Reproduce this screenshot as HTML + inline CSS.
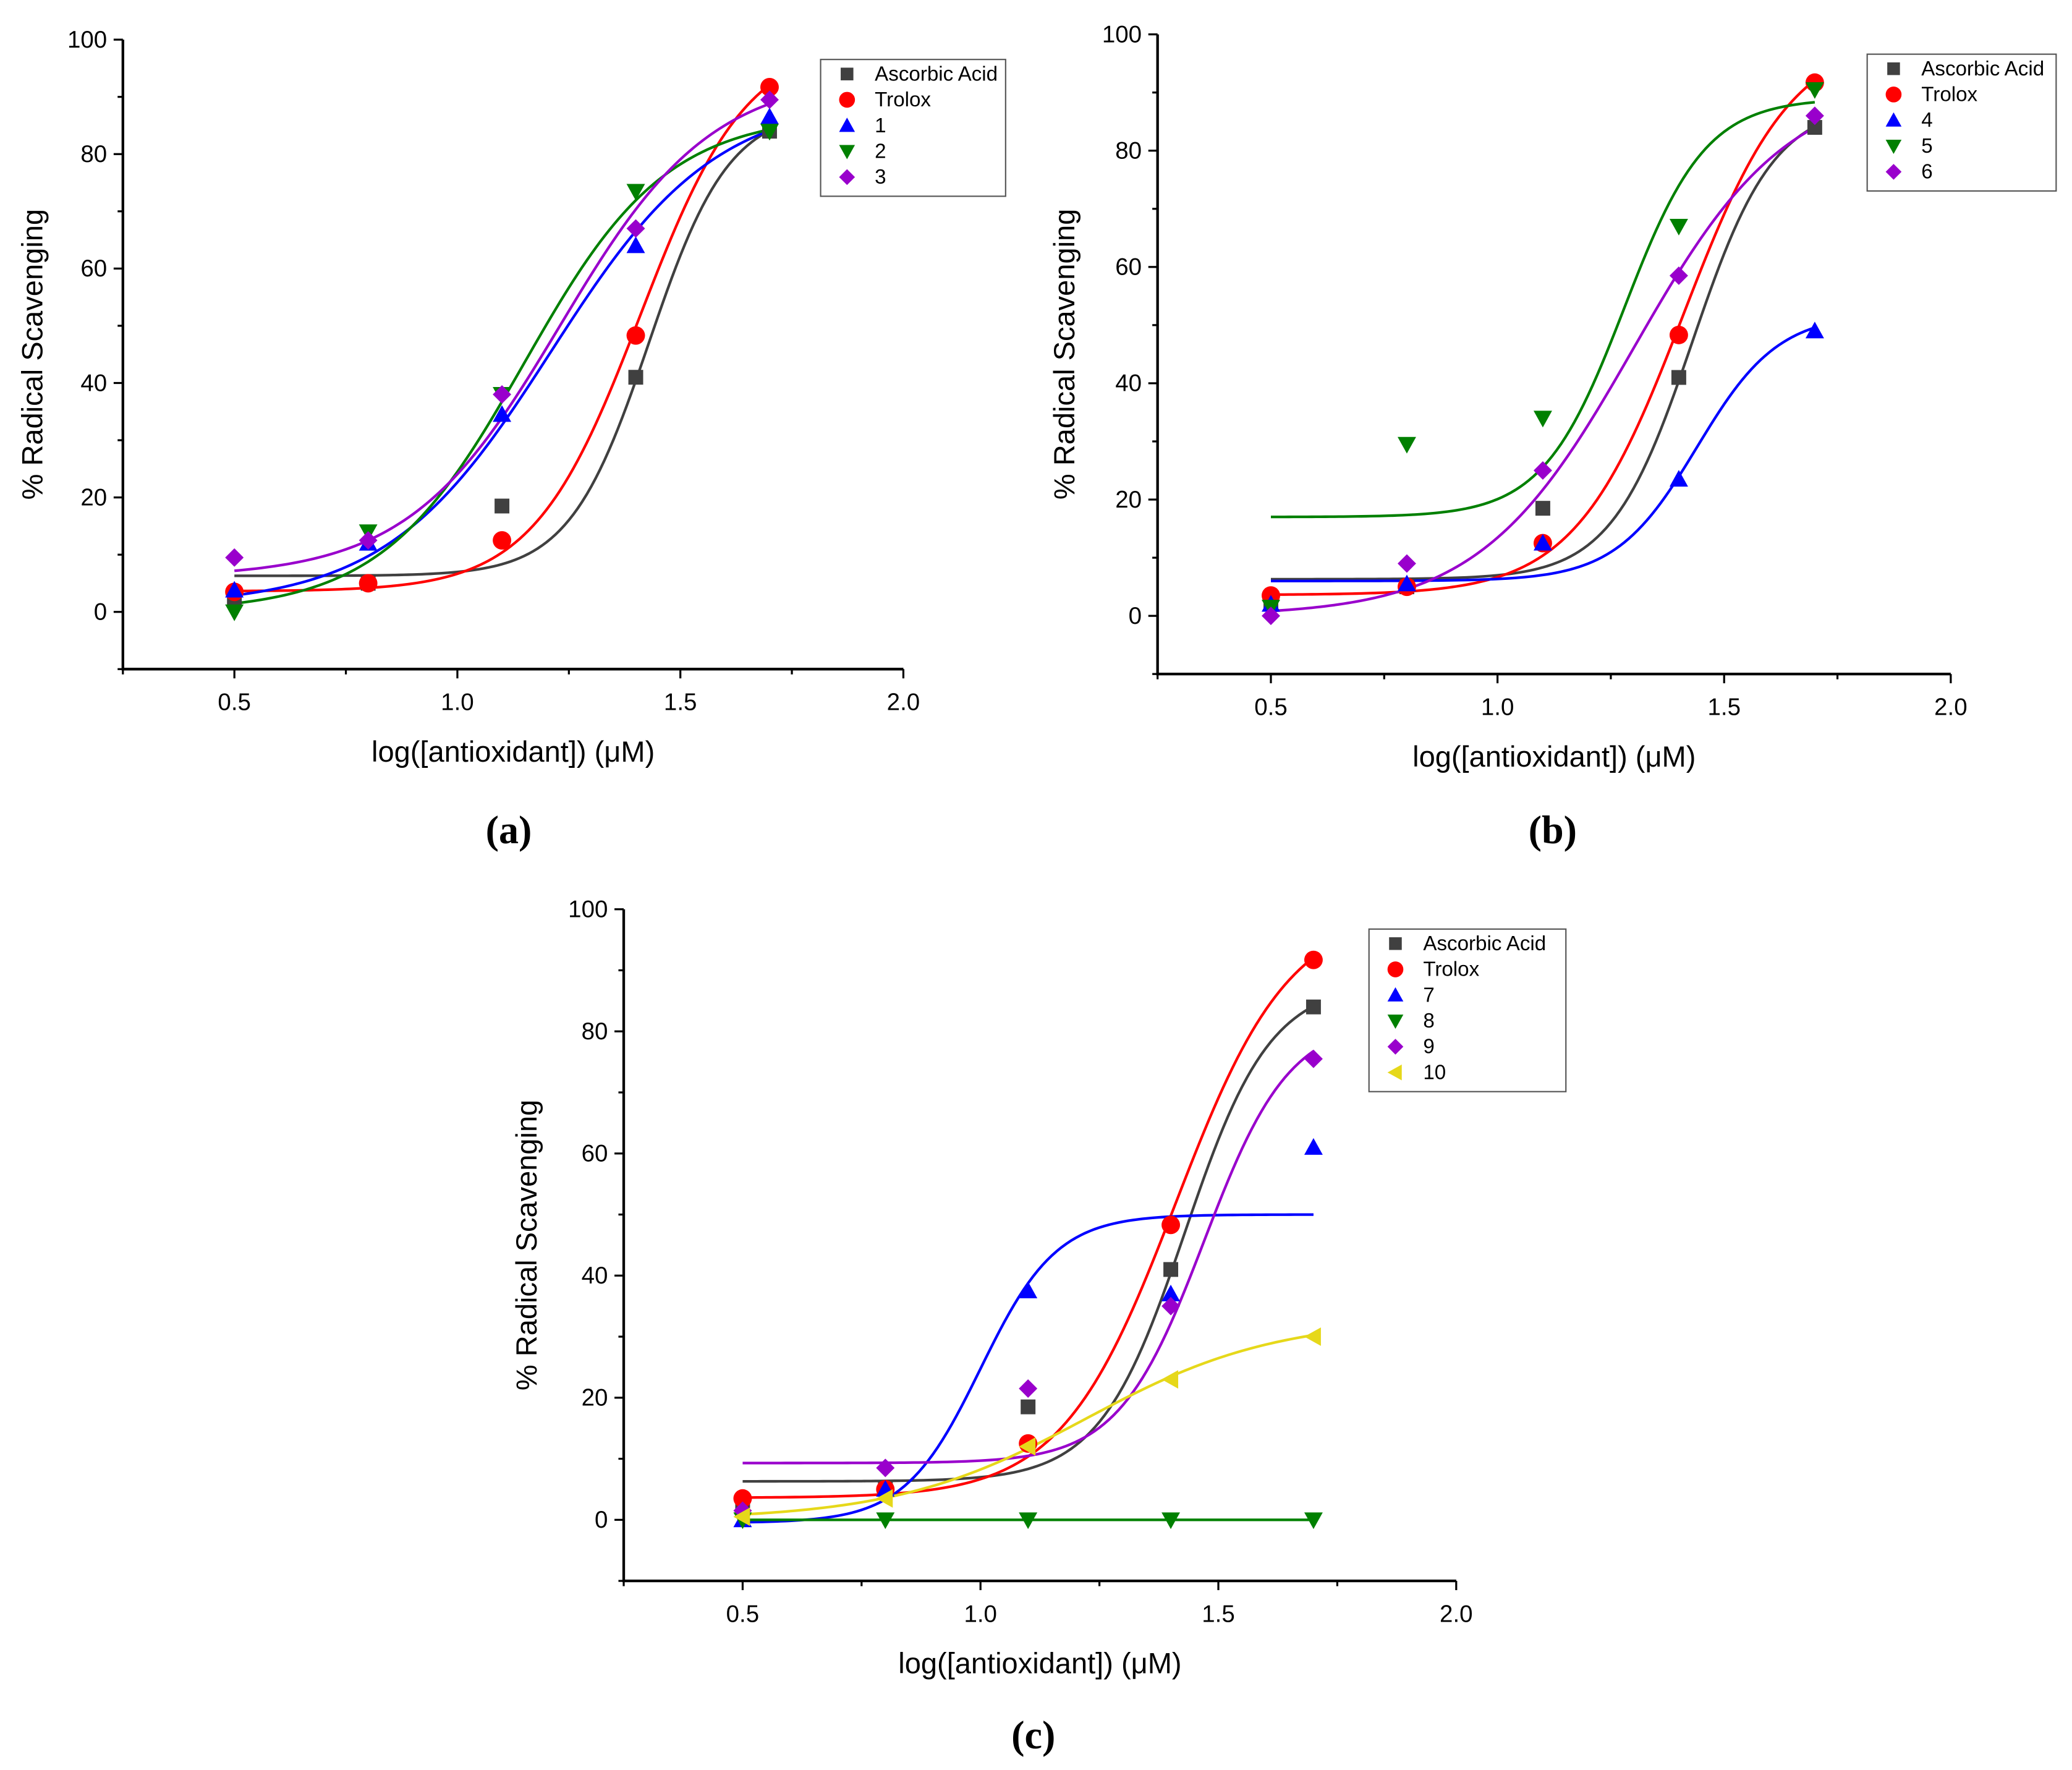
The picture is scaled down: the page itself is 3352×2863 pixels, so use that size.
<!DOCTYPE html>
<html><head><meta charset="utf-8"><style>
html,body{margin:0;padding:0;background:#fff;}
svg{display:block;}
text{font-family:"Liberation Sans",sans-serif;fill:#000;}
</style></head><body>
<svg id="fig" width="3352" height="2863" viewBox="0 0 1568 1339.3" preserveAspectRatio="none" xmlns="http://www.w3.org/2000/svg"></svg>
<script>
const xVals=[0.5,0.8,1.1,1.4,1.7];
const xTicks=[0.5,1.0,1.5,2.0];
const xTickLabels=["0.5","1.0","1.5","2.0"];
const yTicks=[0,20,40,60,80,100];
const yTickLabels=["0","20","40","60","80","100"];
// measured points
const aaVals=[2,5,18.5,41,84];
const troloxVals=[3.5,5,12.5,48.3,91.7];
const c1Vals=[3.8,12,34.5,64,86.5];
const c2Vals=[0,14,38,73.5,84];
const c3Vals=[9.5,12.5,38,67,89.5];
const c4Vals=[2,5.5,12.5,23.5,49];
const c5Vals=[1.5,29.5,34,67,90.5];
const c6Vals=[0,9,25,58.5,86];
const c7Vals=[0,5,37.5,37,61];
const c8Vals=[0,0,0,0,0];
const c9Vals=[1.5,8.5,21.5,35,75.5];
const c10Vals=[0.5,3.5,12,23,30];
// Boltzmann fit params [bottom, top, x0, dx]
const aaFit=[6.3,88,1.43,0.09];
const troloxFit=[3.6,100,1.41,0.12];
const c1Fit=[1,90,1.21,0.185];
const c2Fit=[0,87,1.15,0.16];
const c3Fit=[6,94,1.23,0.17];
const c4Fit=[6,52,1.44,0.09];
const c5Fit=[17,89,1.28,0.09];
const c6Fit=[0,92,1.3,0.17];
const c7Fit=[-0.5,50,1.0,0.08];
const c8Fit=[0,0,1,0.1];
const c9Fit=[9.3,82,1.47,0.09];
const c10Fit=[0,33,1.22,0.2];

const NS="http://www.w3.org/2000/svg";
const svg=document.getElementById('fig');
function mk(tag,attrs,parent){const e=document.createElementNS(NS,tag);for(const k in attrs)e.setAttribute(k,attrs[k]);(parent||svg).appendChild(e);return e;}
function boltz(p,x){return p[1]+(p[0]-p[1])/(1+Math.exp((x-p[2])/p[3]));}
function marker(g,shape,cx,cy,col,s){
  let e;
  if(shape==='square')e=mk('rect',{x:cx-s*0.8,y:cy-s*0.8,width:s*1.6,height:s*1.6,fill:col},g);
  else if(shape==='circle')e=mk('circle',{cx:cx,cy:cy,r:s,fill:col},g);
  else if(shape==='up')e=mk('polygon',{points:`${cx},${cy-s} ${cx-s},${cy+s*0.8} ${cx+s},${cy+s*0.8}`,fill:col},g);
  else if(shape==='down')e=mk('polygon',{points:`${cx},${cy+s} ${cx-s},${cy-s*0.8} ${cx+s},${cy-s*0.8}`,fill:col},g);
  else if(shape==='diamond')e=mk('polygon',{points:`${cx},${cy-s} ${cx+s},${cy} ${cx},${cy+s} ${cx-s},${cy}`,fill:col},g);
  else e=mk('polygon',{points:`${cx-s},${cy} ${cx+s*0.8},${cy-s} ${cx+s*0.8},${cy+s}`,fill:col},g);
  return e;
}
function drawPanel(P){
  const g=mk('g',{});
  
  
  const X=v=>P.x0+(v-0.25)*P.xs;
  const Y=v=>P.y0-v*P.ys;
  const yBot=Y(-10), yTop=Y(100), xL=X(0.25), xR=X(2.0);
  const ax=mk('path',{d:`M${xL},${yTop} L${xL},${yBot} L${xR},${yBot}`,stroke:'#000','stroke-width':2,fill:'none'},g);
  
  
  for(let v=-10;v<=100;v+=10){
    const maj=(v%20===0);
    mk('line',{x1:xL,x2:xL-(maj?7:4),y1:Y(v),y2:Y(v),stroke:'#000','stroke-width':1.5},g);
  }
  yTicks.forEach((v,i)=>{const t=mk('text',{x:xL-12,y:Y(v)+6,'text-anchor':'end','font-size':18},g);t.textContent=yTickLabels[i];
    });
  for(let v=0.25;v<=2.001;v+=0.25){
    const maj=Math.abs(v*2-Math.round(v*2))<1e-6;
    mk('line',{x1:X(v),x2:X(v),y1:yBot,y2:yBot+(maj?7:4),stroke:'#000','stroke-width':1.5},g);
  }
  xTicks.forEach((v,i)=>{const t=mk('text',{x:X(v),y:yBot+31,'text-anchor':'middle','font-size':18},g);t.textContent=xTickLabels[i];
    });
  const yl=mk('text',{x:0,y:0,transform:`translate(${P.ylx},${(yTop+yBot)/2}) rotate(-90)`,'text-anchor':'middle','font-size':22},g);
  yl.textContent='% Radical Scavenging';
  
  const xl=mk('text',{x:(xL+xR)/2,y:yBot+70,'text-anchor':'middle','font-size':22},g);
  xl.textContent='log([antioxidant]) (μM)';
  
  const pl=mk('text',{x:P.labx,y:P.laby,'text-anchor':'middle','font-size':30,'font-weight':'bold',style:'font-family:"Liberation Serif",serif'},g);
  pl.textContent=P.label;
  
  P.series.forEach(s=>{
    let d='';
    for(let i=0;i<=120;i++){const x=0.5+1.2*i/120;d+=(i?'L':'M')+X(x).toFixed(2)+','+Y(boltz(s.fit,x)).toFixed(2);}
    const ln=mk('path',{d:d,stroke:s.col,'stroke-width':2,fill:'none'},g);
    
    
  });
  P.series.forEach(s=>{
    s.vals.forEach((v,i)=>{
      const m=marker(g,s.shape,X(xVals[i]),Y(v),s.col,7);
      
      
    });
  });
  const lg=mk('g',{},g);
  
  
  const lh=P.series.length*19.5+6;
  mk('rect',{x:P.lx,y:P.ly,width:P.lw,height:lh,fill:'#fff',stroke:'#555','stroke-width':1},lg);
  P.series.forEach((s,i)=>{
    const cy=P.ly+11+i*19.5;
    marker(lg,s.shape,P.lx+20,cy,s.col,6);
    const t=mk('text',{x:P.lx+41,y:cy+5,'font-size':15.5},lg);
    t.textContent=s.name;
    
    
  });
}
const AA={key:'ascorbic-acid',name:'Ascorbic Acid',col:'#404040',shape:'square',vals:aaVals,fit:aaFit};
const TR={key:'trolox',name:'Trolox',col:'#ff0000',shape:'circle',vals:troloxVals,fit:troloxFit};
drawPanel({id:'a',label:'(a)',x0:93,xs:337.5,y0:463,ys:4.33,ylx:32,labx:385,laby:638,lx:621,ly:45,lw:140,
  series:[AA,TR,
  {key:'1',name:'1',col:'#0000ff',shape:'up',vals:c1Vals,fit:c1Fit},
  {key:'2',name:'2',col:'#008000',shape:'down',vals:c2Vals,fit:c2Fit},
  {key:'3',name:'3',col:'#9900cc',shape:'diamond',vals:c3Vals,fit:c3Fit}]});
drawPanel({id:'b',label:'(b)',x0:876,xs:343,y0:466,ys:4.4,ylx:813,labx:1175,laby:638,lx:1413,ly:41,lw:143,
  series:[AA,TR,
  {key:'4',name:'4',col:'#0000ff',shape:'up',vals:c4Vals,fit:c4Fit},
  {key:'5',name:'5',col:'#008000',shape:'down',vals:c5Vals,fit:c5Fit},
  {key:'6',name:'6',col:'#9900cc',shape:'diamond',vals:c6Vals,fit:c6Fit}]});
drawPanel({id:'c',label:'(c)',x0:472,xs:360,y0:1150,ys:4.62,ylx:406,labx:782,laby:1323,lx:1036,ly:703,lw:149,
  series:[AA,TR,
  {key:'7',name:'7',col:'#0000ff',shape:'up',vals:c7Vals,fit:c7Fit},
  {key:'8',name:'8',col:'#008000',shape:'down',vals:c8Vals,fit:c8Fit},
  {key:'9',name:'9',col:'#9900cc',shape:'diamond',vals:c9Vals,fit:c9Fit},
  {key:'10',name:'10',col:'#e6d81a',shape:'left',vals:c10Vals,fit:c10Fit}]});
</script>
</body></html>
